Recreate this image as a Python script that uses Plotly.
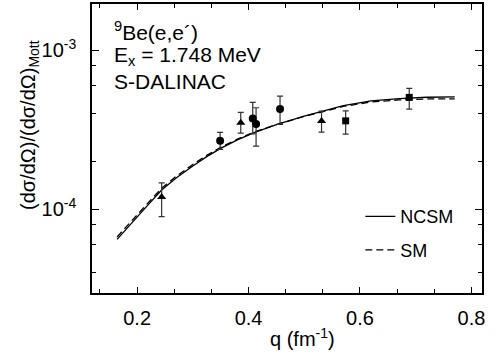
import plotly.graph_objects as go

# theory curves
q_curve = [0.164, 0.18, 0.2, 0.22, 0.244, 0.27, 0.3, 0.325, 0.35, 0.38, 0.41,
           0.45, 0.5, 0.53, 0.57, 0.62, 0.67, 0.72, 0.77]
ncsm = [6.47e-5, 7.50e-5, 8.97e-5, 1.07e-4, 1.32e-4, 1.57e-4, 1.87e-4, 2.14e-4,
        2.41e-4, 2.73e-4, 3.03e-4, 3.40e-4, 3.85e-4, 4.09e-4, 4.47e-4, 4.79e-4,
        4.95e-4, 5.05e-4, 5.08e-4]
sm = [6.70e-5, 7.75e-5, 9.25e-5, 1.10e-4, 1.355e-4, 1.61e-4, 1.91e-4, 2.18e-4,
      2.45e-4, 2.76e-4, 3.05e-4, 3.40e-4, 3.83e-4, 4.06e-4, 4.42e-4, 4.72e-4,
      4.86e-4, 4.93e-4, 4.94e-4]

# data: triangles
q_tri = [0.244, 0.386, 0.531]
y_tri = [1.195e-4, 3.49e-4, 3.58e-4]
ep_tri = [0.268e-4, 0.57e-4, 0.55e-4]
em_tri = [0.295e-4, 0.48e-4, 0.53e-4]
# circles
q_circ = [0.349, 0.4075, 0.4135, 0.4565]
y_circ = [2.69e-4, 3.72e-4, 3.43e-4, 4.26e-4]
ep_circ = [0.35e-4, 0.97e-4, 0.91e-4, 0.88e-4]
em_circ = [0.31e-4, 0.75e-4, 0.94e-4, 0.85e-4]
# squares
q_sq = [0.5743, 0.6884]
y_sq = [3.59e-4, 5.04e-4]
ep_sq = [0.56e-4, 0.70e-4]
em_sq = [0.63e-4, 0.78e-4]

y_major = [1e-4, 1e-3]
y_major_text = ["10<sup>-4</sup>", "10<sup>-3</sup>"]
y_minor = [4e-5, 6e-5, 8e-5, 2e-4, 4e-4, 6e-4, 8e-4]

FONT = "Liberation Sans, Arial, sans-serif"
FS = 20

fig = go.Figure()
fig.add_trace(go.Scatter(x=q_curve, y=ncsm, mode="lines", name="NCSM",
                         line=dict(color="black", width=1.3), legendgroup="a"))
fig.add_trace(go.Scatter(x=q_curve, y=sm, mode="lines", name="SM",
                         line=dict(color="black", width=1.3, dash="7px,4px"), legendgroup="b"))

def pts(x, y, ep, em, sym, size):
    fig.add_trace(go.Scatter(
        x=x, y=y, mode="markers", showlegend=False,
        marker=dict(symbol=sym, size=size, color="black"),
        error_y=dict(type="data", array=ep, arrayminus=em, symmetric=False,
                     color="#333333", thickness=1.2, width=3)))

pts(q_tri, y_tri, ep_tri, em_tri, "triangle-up", 8)
pts(q_circ, y_circ, ep_circ, em_circ, "circle", 8)
pts(q_sq, y_sq, ep_sq, em_sq, "square", 7)

fig.update_layout(
    width=499, height=358,
    margin=dict(l=92, r=17, t=4, b=65, autoexpand=False),
    paper_bgcolor="white", plot_bgcolor="white",
    font=dict(family=FONT, size=FS, color="black"),
    showlegend=True,
    legend=dict(x=0.688, y=0.328, xanchor="left", yanchor="top",
                bgcolor="rgba(0,0,0,0)", font=dict(size=18),
                traceorder="grouped", tracegroupgap=7),
    xaxis=dict(range=[0.119, 0.819], showgrid=False, zeroline=False, automargin=False,
               showline=True, linecolor="black", linewidth=1.5, mirror="ticks",
               ticks="inside", ticklen=6, tickwidth=1.2, tickcolor="black",
               ticklabelstandoff=6,
               tickmode="array", tickvals=[0.2, 0.4, 0.6, 0.8],
               ticktext=["0.2", "0.4", "0.6", "0.8"],
               minor=dict(ticks="inside", ticklen=4, tickwidth=1.2, tickcolor="black",
                          dtick=0.2 / 3, tick0=0.2, showgrid=False)),
    yaxis=dict(type="log", range=[-4.526, -2.711], showgrid=False, zeroline=False,
               automargin=False,
               showline=True, linecolor="black", linewidth=1.5, mirror="ticks",
               ticks="inside", ticklen=7, tickwidth=1.2, tickcolor="black",
               ticklabelstandoff=10,
               tickmode="array", tickvals=y_major, ticktext=y_major_text,
               minor=dict(ticks="inside", ticklen=4, tickwidth=1.2, tickcolor="black",
                          tickmode="array", tickvals=y_minor, showgrid=False)),
)

fig.add_annotation(text="(dσ/dΩ)/(dσ/dΩ)<sub>Mott</sub>", textangle=-90,
                   xref="paper", yref="paper", x=-0.16, y=0.58,
                   xanchor="center", yanchor="middle", showarrow=False,
                   font=dict(size=FS))
fig.add_annotation(text="q (fm<sup>-1</sup>)", xref="paper", yref="paper",
                   x=0.54, y=-0.105, xanchor="center", yanchor="top",
                   showarrow=False, font=dict(size=FS))
fig.add_annotation(text="<sup>9</sup>Be(e,e´)", xref="paper", yref="paper",
                   x=0.052, y=0.905, xanchor="left", yanchor="middle",
                   showarrow=False, font=dict(size=21))
fig.add_annotation(text="E<sub>x</sub> = 1.748 MeV", xref="paper", yref="paper",
                   x=0.052, y=0.82, xanchor="left", yanchor="middle",
                   showarrow=False, font=dict(size=21))
fig.add_annotation(text="S-DALINAC", xref="paper", yref="paper",
                   x=0.052, y=0.733, xanchor="left", yanchor="middle",
                   showarrow=False, font=dict(size=21))

fig.write_html("out.html", config={"displayModeBar": False},
               post_script="document.body.style.margin='0px';document.body.style.overflow='hidden';")
